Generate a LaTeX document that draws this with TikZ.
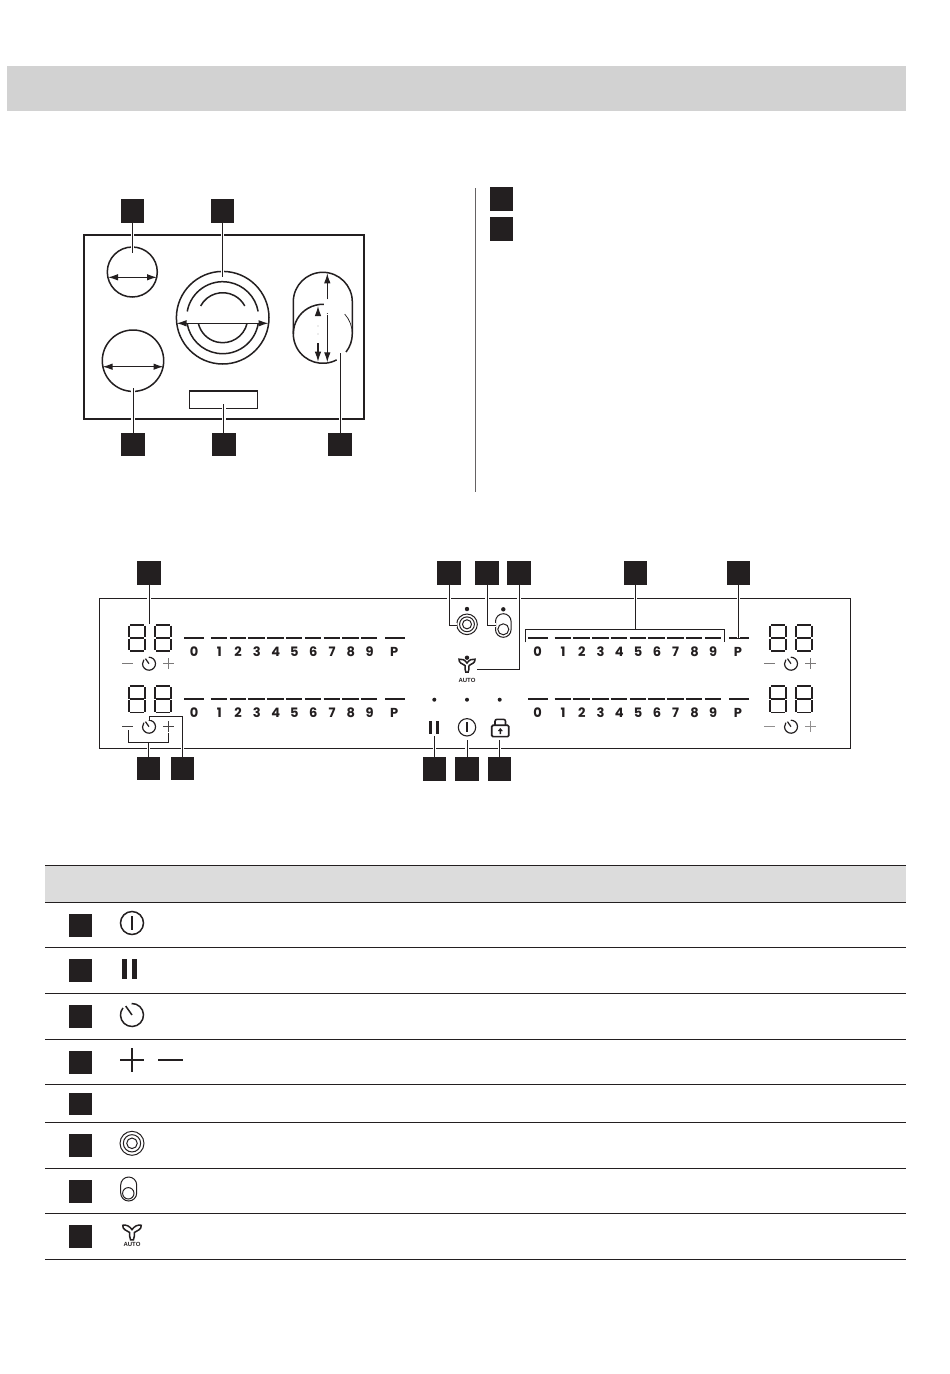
\documentclass[tikz,border=0pt]{standalone}
\usepackage{fontspec}
\usetikzlibrary{arrows.meta}
\newfontfamily\panelfont{Poppins}
\newfontfamily\autofont{Liberation Sans}
\definecolor{ink}{HTML}{231F20}
\tikzset{
  sq/.style={fill=ink,draw=none,minimum size=23.5pt,inner sep=0pt,outer sep=0pt},
  ln/.style={draw=ink,line width=1.1pt},
  hobline/.style={draw=ink,line width=1.5pt},
  leader/.style={draw=ink,line width=1pt,preaction={draw=white,line width=3.4pt}},
  leaderplain/.style={draw=ink,line width=1pt},
  dim/.style={draw=ink,line width=1.1pt,{Latex[length=10pt,width=6.5pt]}-{Latex[length=10pt,width=6.5pt]}},
  dimend/.style={draw=ink,line width=1.1pt,-{Latex[length=10pt,width=6.5pt]}},
  seg/.style={draw=ink,line width=1.9pt},
  bar/.style={draw=ink,line width=1.9pt},
  num/.style={font=\panelfont\bfseries\fontsize{13}{14}\selectfont,text=ink,inner sep=0pt},
  autotxt/.style={font=\autofont\bfseries\fontsize{6}{7}\selectfont,text=ink,inner sep=0pt},
  dotmark/.style={fill=ink,draw=none},
  rule/.style={draw=ink,line width=1.2pt}
}
% seven segment digit, top-left x,y
\newcommand{\sevenseg}[2]{%
 \begin{scope}[shift={(#1,#2)}]
  \draw[seg] (1.0,0.7)--(15.4,0.7);
  \draw[seg] (0,1.4)--(0,12.8);
  \draw[seg] (16.4,1.4)--(16.4,12.8);
  \draw[seg] (1.2,13.7)--(15.2,13.7);
  \draw[seg] (0,14.6)--(0,26);
  \draw[seg] (16.4,14.6)--(16.4,26);
  \draw[seg] (1.0,26.8)--(15.4,26.8);
 \end{scope}}
% clock icon
\newcommand{\clockicon}[4]{% cx cy r lw
 \begin{scope}[shift={(#1,#2)}]
  \draw[draw=ink,line width=#4pt] (268:#3) arc[start angle=268,end angle=578,radius=#3];
  \draw[draw=ink,line width=#4pt] (0,0)--(235:#3*0.95);
 \end{scope}}
\newcommand{\powericon}[4]{%
 \begin{scope}[shift={(#1,#2)}]
  \draw[draw=ink,line width=#4pt] (0,0) circle[radius=#3];
  \draw[draw=ink,line width=#4pt] (0,-#3*0.58)--(0,#3*0.58);
 \end{scope}}
\newcommand{\ringsicon}[3]{% cx cy r
 \begin{scope}[shift={(#1,#2)},draw=ink,line width=1pt]
  \draw (0,0) circle[radius=#3];
  \draw (0,0) circle[radius=#3*0.72];
  \draw (0,0) circle[radius=#3*0.44];
 \end{scope}}
\newcommand{\ovalicon}[2]{% cx cy scaled
 \begin{scope}[shift={(#1,#2)},draw=ink,line width=1pt]
  \draw (-7.8,-4) arc[start angle=180,end angle=360,radius=7.8] -- (7.8,4) arc[start angle=0,end angle=180,radius=7.8] -- cycle;
  \draw (0,3.8) circle[radius=5.5];
 \end{scope}}
\newcommand{\fanicon}[3]{% cx cy scale
 \begin{scope}[shift={(#1,#2)},scale=#3]
  \draw[draw=ink,line width=1.5pt] (0,-2.5) .. controls (2,-5.5) and (5,-7) .. (8,-6.3) .. controls (8.6,-2.5) and (4,-1.5) .. (2,0) .. controls (2,2) and (2.2,5) .. (1.2,6.5) -- (-1.2,6.5) .. controls (-2.2,5) and (-2,2) .. (-2,0) .. controls (-4,-1.5) and (-8.6,-2.5) .. (-8,-6.3) .. controls (-5,-7) and (-2,-5.5) .. (0,-2.5) -- cycle;
 \end{scope}}
% scale row: x of 0, label y, bar y
\newcommand{\scalerow}[2]{% x0 (left end of the 0 bar), y of bar
 \begin{scope}[shift={(#1,#2)}]
  \draw[bar] (0,0)--(20,0);
  \foreach \i in {0,...,8}{\draw[bar] ({26.6+\i*18.77},0)--({43+\i*18.77},0);}
  \draw[bar] (201,0)--(221,0);
  \node[num] at (9.7,14.2) {0};
  \foreach \i/\t in {1/1,2/2,3/3,4/4,5/5,6/6,7/7,8/8,9/9}{\node[num] at ({16.3+\i*18.77},14.2) {\t};}
  \node[num] at (210,14.2) {P};
 \end{scope}}
\newcommand{\timerrow}[5]{% x left-minus, y, colour, digits y, lw
 \begin{scope}[shift={(#1,#2)}]
  \draw[draw=#3,line width=#5pt] (0,0)--(10.5,0);
  \draw[draw=#3,line width=#5pt] (41,0)--(52,0);
  \draw[draw=#3,line width=#5pt] (46.5,-5.5)--(46.5,5.5);
 \end{scope}
 \clockicon{#1+26.7}{#2}{6.5}{1.2}}
\begin{document}
\begin{tikzpicture}[x=1pt,y=-1pt]
\useasboundingbox (0,0) rectangle (950,1374);
\fill[white] (0,0) rectangle (950,1374);
% top band
\fill[fill={rgb,255:red,210;green,210;blue,210}] (7,66) rectangle (906,111);

% hob
\draw[draw=ink,line width=2pt] (83.7,235) rectangle (364,419);
\draw[hobline] (132.3,272) circle[radius=25];
\draw[hobline] (133,360.7) circle[radius=30.7];
\draw[hobline] (222.7,317.7) circle[radius=46.3];
\draw[hobline] ([shift={(222.7,317.7)}]190:36) arc[start angle=190,end angle=350,radius=36];
\draw[hobline] ([shift={(222.7,317.7)}]9:36) arc[start angle=9,end angle=171,radius=36];
\draw[hobline] ([shift={(222.7,317.7)}]208:25) arc[start angle=208,end angle=332,radius=25];
\draw[hobline] ([shift={(222.7,317.7)}]13:25) arc[start angle=13,end angle=167,radius=25];
\draw[ln] (189.3,391) rectangle (257.7,408.7);
% oval zone
\draw[hobline] ([shift={(322.8,333.8)}]62:29.5) arc[start angle=62,end angle=180,radius=29.5] -- (293.3,301.8) arc[start angle=180,end angle=360,radius=29.5] -- (352.3,333.8) arc[start angle=0,end angle=38,radius=29.5];
\draw[hobline] (293.3,333.8) arc[start angle=180,end angle=272,radius=29.5];
\draw[draw=ink,line width=0.7pt] (352.3,333.8) arc[start angle=360,end angle=318,radius=29.5];
% dimension arrows
\coordinate (d1a) at (108,277.3); \coordinate (d1b) at (157,277.3);
\draw[dim] (d1a)--(d1b);
\coordinate (d2a) at (102.5,366.7); \coordinate (d2b) at (163.5,366.7);
\draw[dim] (d2a)--(d2b);
\coordinate (d3a) at (176.5,323.3); \coordinate (d3b) at (268.5,323.3);
\draw[dim] (d3a)--(d3b);
\coordinate (d4a) at (327.3,299.3); \coordinate (d4b) at (327.3,273.3);
\draw[dimend] (d4a)--(d4b);
\coordinate (d5a) at (327.3,315); \coordinate (d5b) at (327.3,362.3);
\draw[dimend] (d5a)--(d5b);
\coordinate (d6a) at (318,316); \coordinate (d6b) at (318,306);
\draw[dimend] (d6a)--(d6b);
\coordinate (d7a) at (318,343.3); \coordinate (d7b) at (318,361.7);
\draw[dimend] (d7a)--(d7b);
\fill[ink] (327.3,313.5) circle[radius=0.5];
\fill[ink] (318,326) circle[radius=0.4];
\fill[ink] (318,334) circle[radius=0.4];

\node[sq] (h1) at (132.3,210.8) {};
\node[sq] (h2) at (222.5,210.8) {};
\node[sq] (h3) at (133,444.3) {};
\node[sq] (h4) at (223.8,444.3) {};
\node[sq] (h5) at (340.2,444.3) {};
\coordinate (he1) at (132.3,253.3);
\coordinate (he2) at (222.5,277.3);
\coordinate (he3) at (133,387.7);
\coordinate (he4) at (223.8,404.3);
\coordinate (he5) at (340.2,353.3);
\draw[leader] (h1)--(he1);
\draw[leader] (h2)--(he2);
\draw[leader] (h3)--(he3);
\draw[leader] (h4)--(he4);
\draw[leader] (h5)--(he5);

% divider and legend squares
\draw[draw=ink!70,line width=1pt] (475.5,188)--(475.5,492);
\node[sq] (k1) at (501.7,199) {};
\node[sq] (k2) at (501.7,229) {};

% panel
\draw[ln] (99.7,598.3) rectangle (850.3,748.3);
\sevenseg{129}{624.3}\sevenseg{154.8}{624.3}
\sevenseg{129}{685.7}\sevenseg{154.8}{685.7}
\sevenseg{770}{624.3}\sevenseg{796}{624.3}
\sevenseg{770}{685.7}\sevenseg{796}{685.7}
\scalerow{184.3}{637.7}
\scalerow{184.3}{698.7}
\scalerow{528}{637.7}
\scalerow{528}{698.7}
\timerrow{122.3}{663.7}{ink!60}{0}{1}
\timerrow{122.3}{726.7}{ink!85}{0}{1}
\timerrow{764.3}{663.7}{ink!60}{0}{1}
\timerrow{764.3}{726.7}{ink!50}{0}{1}

% centre icons
\ringsicon{467}{624.3}{10.3}
\ovalicon{503.3}{625.5}
\fanicon{467}{665.5}{1}
\node[autotxt] (autoa) at (467,680.3) {AUTO};
\fill[dotmark] (467,609) circle[radius=2.2];
\fill[dotmark] (503.3,609.3) circle[radius=2.2];
\fill[dotmark] (467,657.7) circle[radius=2.2];
\fill[dotmark] (434.3,699.7) circle[radius=2];
\fill[dotmark] (467,699.7) circle[radius=2];
\fill[dotmark] (499.7,699.7) circle[radius=2];
\draw[draw=ink,line width=2.5pt] (430.7,721)--(430.7,734.3);
\draw[draw=ink,line width=2.5pt] (437.3,721)--(437.3,734.3);
\powericon{467}{727.3}{8.7}{1.1}
% lock
\draw[draw=ink,line width=1.7pt,rounded corners=1.2pt] (491.8,725.3) rectangle (508.8,736.6);
\draw[draw=ink,line width=1.6pt,rounded corners=2pt] (495,725.3)--(495,719.3)--(505.5,719.3)--(505.5,725.3);
\fill[ink] (500.3,728)--(502.8,731)--(501,731)--(501,734)--(499.6,734)--(499.6,731)--(497.8,731)--cycle;

% panel squares and leaders
\node[sq] (p1) at (149,572.8) {};
\node[sq] (p2) at (449,572.8) {};
\node[sq] (p3) at (487,572.8) {};
\node[sq] (p4) at (519,572.8) {};
\node[sq] (p5) at (635.3,572.8) {};
\node[sq] (p6) at (738.3,572.8) {};
\node[sq] (p7) at (148.7,768.5) {};
\node[sq] (p8) at (182.3,768.5) {};
\node[sq] (p9) at (434.3,769) {};
\node[sq] (p10) at (467,769) {};
\node[sq] (p11) at (499.7,769) {};
\coordinate (pe1) at (149,624);
\coordinate (pe2a) at (449,625); \coordinate (pe2) at (456.5,625);
\coordinate (pe3a) at (487,625); \coordinate (pe3) at (495.5,625);
\coordinate (pe4a) at (519,669.3); \coordinate (pe4) at (477.3,669.3);
\coordinate (pe5) at (635.3,629.3);
\coordinate (pe6) at (738.3,637.7);
\coordinate (brA) at (525.7,642.3); \coordinate (brB) at (525.7,629.3); \coordinate (brC) at (724.7,629.3); \coordinate (brD) at (724.7,642.3);
\coordinate (pe7) at (148.7,742.7);
\coordinate (br7A) at (128.3,730); \coordinate (br7B) at (128.3,742.7); \coordinate (br7C) at (168.7,742.7); \coordinate (br7D) at (168.7,733);
\coordinate (pe8a) at (182.3,716.3); \coordinate (pe8) at (149,716.3); \coordinate (pe8b) at (149,719.5);
\coordinate (pe9) at (434.3,735.5);
\coordinate (pe10) at (467,740);
\coordinate (pe11) at (499.7,740);
\draw[leader] (p1)--(pe1);
\draw[leader] (p2)--(pe2a)--(pe2);
\draw[leader] (p3)--(pe3a)--(pe3);
\draw[leader] (p4)--(pe4a)--(pe4);
\draw[leader] (p5)--(pe5);
\draw[leader] (p6)--(pe6);
\draw[leaderplain] (brA)--(brB)--(brC)--(brD);
\draw[leader] (p7)--(pe7);
\draw[leaderplain] (br7A)--(br7B)--(br7C)--(br7D);
\draw[leader] (p8)--(pe8a)--(pe8)--(pe8b);
\draw[leader] (p9)--(pe9);
\draw[leader] (p10)--(pe10);
\draw[leader] (p11)--(pe11);

% table
\fill[fill={rgb,255:red,220;green,220;blue,220}] (45,865.3) rectangle (906,902.3);
\foreach \yy in {865.3,902.3,947.3,993.3,1039.3,1084.3,1122.3,1168.3,1213.3,1259.3}{\draw[rule] (45,\yy)--(906,\yy);}
\node[sq,minimum size=22.7pt] (t1) at (80.3,925.3) {};
\node[sq,minimum size=22.7pt] (t2) at (80.3,970.8) {};
\node[sq,minimum size=22.7pt] (t3) at (80.3,1016.7) {};
\node[sq,minimum size=22.7pt] (t4) at (80.3,1062.3) {};
\node[sq,minimum size=22.7pt] (t5) at (80.3,1104) {};
\node[sq,minimum size=22.7pt] (t6) at (80.3,1145.7) {};
\node[sq,minimum size=22.7pt] (t7) at (80.3,1191.3) {};
\node[sq,minimum size=22.7pt] (t8) at (80.3,1236.8) {};
\powericon{132}{923}{11.5}{1.5}
\fill[ink] (122.3,958.7) rectangle (126.5,979);
\fill[ink] (132.3,958.7) rectangle (136.5,979);
\clockicon{132}{1015}{11.5}{1.5}
\draw[draw=ink,line width=2.2pt] (120,1060)--(144,1060);
\draw[draw=ink,line width=2.2pt] (132,1048)--(132,1072);
\draw[draw=ink,line width=2.2pt] (158.3,1060)--(182.7,1060);
\ringsicon{132}{1143.3}{12}
\begin{scope}[shift={(128.7,1189)},draw=ink,line width=1pt]
  \draw (-8,-4) arc[start angle=180,end angle=360,radius=8] -- (8,4) arc[start angle=0,end angle=180,radius=8] -- cycle;
  \draw (-0.4,4.3) circle[radius=5.7];
\end{scope}
\fanicon{132}{1232.5}{1.15}
\node[autotxt] (autob) at (132,1244) {AUTO};
\end{tikzpicture}
\end{document}
